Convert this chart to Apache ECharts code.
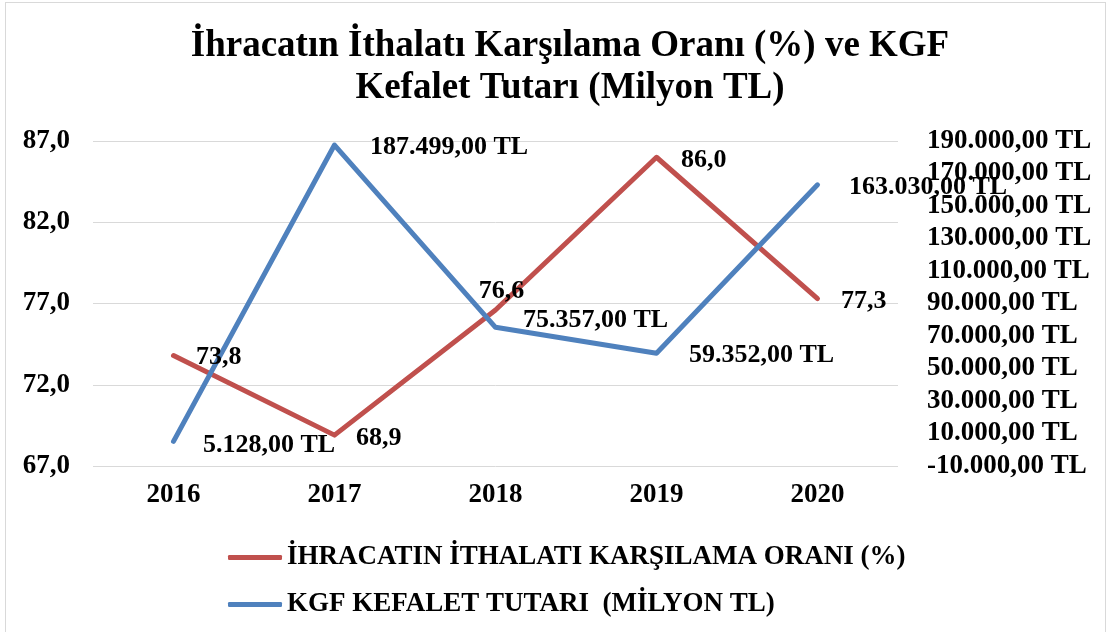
<!DOCTYPE html>
<html>
<head>
<meta charset="utf-8">
<script src="https://cdn.jsdelivr.net/npm/echarts@6/dist/echarts.min.js"></script>
<style>
  html, body { margin: 0; padding: 0; background: #fff; }
  #frame { position: absolute; left: 5px; top: 2px; width: 1101px; height: 660px;
           border: 1px solid #d9d9d9; box-sizing: border-box; }
  #chart { position: absolute; left: 0; top: 0; width: 1113px; height: 632px; }
</style>
</head>
<body>
<div id="frame"></div>
<div id="chart"></div>
<script>
const years = ["2016", "2017", "2018", "2019", "2020"];
const coverageRatio = [73.8, 68.9, 76.6, 86.0, 77.3];
const kgfAmount = [5128, 187499, 75357, 59352, 163030];

const nameRatio = "İHRACATIN İTHALATI KARŞILAMA ORANI (%)";
const nameKgf = "KGF KEFALET TUTARI  (MİLYON TL)";

// label placement per point
const ratioLabelPos = [
  { position: "right", distance: 22, offset: [0, 2] },
  { position: "right", distance: 21, offset: [0, 3] },
  { position: "top", distance: 5, offset: [6, 0] },
  { position: "right", distance: 24, offset: [0, 3] },
  { position: "right", distance: 23, offset: [0, 3] },
];
const kgfLabelPos = [
  { position: "right", distance: 29, offset: [0, 4] },
  { position: "right", distance: 35, offset: [0, 2] },
  { position: "right", distance: 27, offset: [0, -7] },
  { position: "right", distance: 32, offset: [0, 2] },
  { position: "right", distance: 31, offset: [0, 2] },
];

const FONT = '"Liberation Serif", "Times New Roman", serif';
const RED = "#C0504D";
const BLUE = "#4F81BD";

function fmtRatio(v) {
  return v.toFixed(1).replace(".", ",");
}
function fmtTL(v) {
  const neg = v < 0;
  const s = Math.abs(Math.round(v)).toString().replace(/\B(?=(\d{3})+(?!\d))/g, ".");
  return (neg ? "-" : "") + s + ",00 TL";
}

const labelText = { color: "#000", fontFamily: FONT, fontWeight: "bold", fontSize: 26 };
const axisText = { color: "#000", fontFamily: FONT, fontWeight: "bold", fontSize: 27 };

const chart = echarts.init(document.getElementById("chart"));

chart.setOption({
  backgroundColor: "transparent",
  animation: false,
  title: {
    text: "İhracatın İthalatı Karşılama Oranı (%) ve KGF\nKefalet Tutarı (Milyon TL)",
    left: 565,
    top: 20,
    textAlign: "center",
    textStyle: { fontFamily: FONT, fontWeight: "bold", fontSize: 37, lineHeight: 42, color: "#000" },
  },
  grid: { left: 93, right: 215, top: 141, bottom: 166 },
  legend: {
    orient: "vertical",
    left: 223,
    top: 537,
    itemWidth: 54,
    itemHeight: 5,
    itemGap: 16,
    icon: "roundRect",
    data: [nameRatio, nameKgf],
    textStyle: { color: "#000", fontFamily: FONT, fontWeight: "bold", fontSize: 27, lineHeight: 31 },
  },
  xAxis: {
    type: "category",
    data: years,
    axisLine: { show: false },
    axisTick: { show: false },
    axisLabel: Object.assign({ margin: 16 }, axisText),
  },
  yAxis: [
    {
      type: "value",
      min: 67,
      max: 87,
      interval: 5,
      axisLine: { show: false },
      axisTick: { show: false },
      splitLine: { lineStyle: { color: "#d9d9d9", width: 1 } },
      axisLabel: Object.assign({ margin: 23, formatter: fmtRatio }, axisText),
    },
    {
      type: "value",
      min: -10000,
      max: 190000,
      interval: 20000,
      axisLine: { show: false },
      axisTick: { show: false },
      splitLine: { show: false },
      axisLabel: Object.assign({ margin: 29, formatter: fmtTL }, axisText),
    },
  ],
  series: [
    {
      name: nameRatio,
      type: "line",
      yAxisIndex: 0,
      symbol: "circle",
      symbolSize: 1,
      color: RED,
      lineStyle: { color: RED, width: 5, cap: "round", join: "round" },
      data: coverageRatio.map((v, i) => ({
        value: v,
        label: Object.assign({ show: true, formatter: (p) => fmtRatio(p.value) }, labelText, ratioLabelPos[i]),
      })),
    },
    {
      name: nameKgf,
      type: "line",
      yAxisIndex: 1,
      symbol: "circle",
      symbolSize: 1,
      color: BLUE,
      lineStyle: { color: BLUE, width: 5, cap: "round", join: "round" },
      data: kgfAmount.map((v, i) => ({
        value: v,
        label: Object.assign({ show: true, formatter: (p) => fmtTL(p.value) }, labelText, kgfLabelPos[i]),
      })),
    },
  ],
});
</script>
</body>
</html>
